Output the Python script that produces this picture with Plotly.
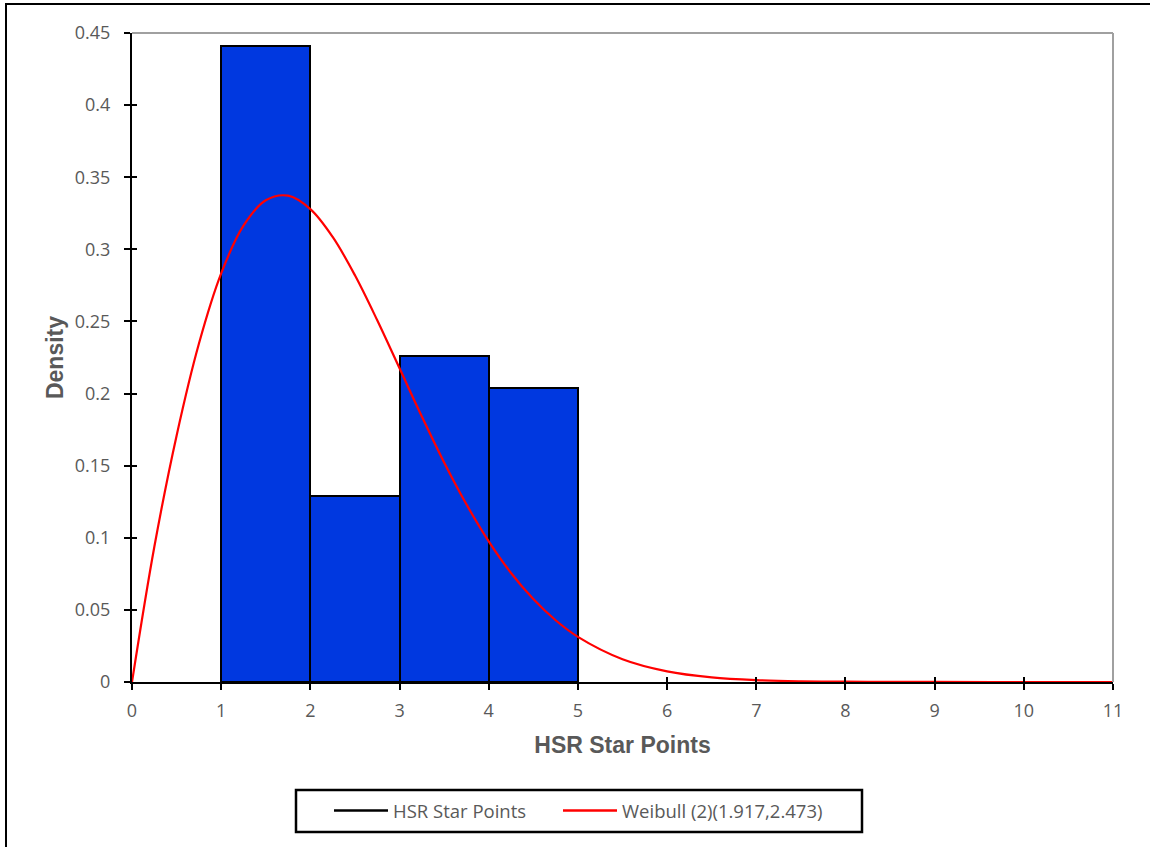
import plotly.graph_objects as go

# Histogram (density) of HSR Star Points
bin_left = [1, 2, 3, 4]
bin_width = [1, 1, 1, 1]
density = [0.441, 0.129, 0.226, 0.204]

# Weibull (2)(1.917, 2.473) curve
curve_x = [0, 0.25, 0.5, 0.75, 1, 1.25, 1.5, 1.75, 2, 2.25, 2.5, 2.75, 3, 3.25, 3.5,
           3.75, 4, 4.25, 4.5, 4.75, 5, 5.5, 6, 6.5, 7, 7.5, 8, 8.5, 9, 10, 11]
curve_y = [0, 0.0936, 0.1708, 0.2345, 0.2833, 0.3164, 0.3340, 0.3372, 0.3279, 0.3086,
           0.2820, 0.2508, 0.2175, 0.1841, 0.1522, 0.1232, 0.0975, 0.0756, 0.0575,
           0.0428, 0.0313, 0.0158, 0.0074, 0.0032, 0.0013, 0.0005, 0.0002, 0.00005,
           0.00002, 0, 0]

x_ticks = list(range(0, 12))
y_ticks = [0, 0.05, 0.1, 0.15, 0.2, 0.25, 0.3, 0.35, 0.4, 0.45]
y_tick_text = ["0", "0.05", "0.1", "0.15", "0.2", "0.25", "0.3", "0.35", "0.4", "0.45"]

GRAY = "#595959"
FONT = "Open Sans, Carlito, sans-serif"
fig = go.Figure()

fig.add_trace(go.Bar(
    x=[l + w / 2 for l, w in zip(bin_left, bin_width)], y=density, width=bin_width,
    marker=dict(color="#0038E0", line=dict(color="black", width=2)),
    showlegend=False, name="HSR Star Points"))

fig.add_trace(go.Scatter(
    x=curve_x, y=curve_y, mode="lines", line=dict(color="#FF0000", width=2.2, shape="spline"),
    showlegend=False, name="Weibull (2)(1.917,2.473)"))

# legend entries (attached to overlay axes that draw inner tick halves)
fig.add_trace(go.Scatter(x=[None], y=[None], mode="lines", line=dict(color="black", width=2.5),
                         name="HSR Star Points", xaxis="x2", yaxis="y2"))
fig.add_trace(go.Scatter(x=[None], y=[None], mode="lines", line=dict(color="#FF0000", width=2.5),
                         name="Weibull (2)(1.917,2.473)", xaxis="x2", yaxis="y2"))
# invisible spacer entry so the last legend label is not clipped
fig.add_trace(go.Scatter(x=[None], y=[None], mode="lines",
                         line=dict(color="rgba(0,0,0,0)", width=0),
                         name=" ", xaxis="x2", yaxis="y2", hoverinfo="skip"))

def px_x(p):
    return (p - 132) / 981

def px_y(p):
    return (682 - p) / 649

fig.update_layout(
    width=1150, height=847,
    margin=dict(l=132, r=37, t=33, b=165),
    plot_bgcolor="white", paper_bgcolor="white",
    font=dict(family=FONT, color=GRAY, size=15),
    bargap=0,
    xaxis=dict(range=[0, 11], tickvals=x_ticks, ticks="outside", ticklen=6, tickwidth=2,
               tickcolor="black", showline=True, linecolor="black", linewidth=2,
               showgrid=False, zeroline=False, tickfont=dict(size=18, color=GRAY),
               ticklabelstandoff=5,
               title=dict(text="<b>HSR Star Points</b>", standoff=16,
                          font=dict(family="Liberation Sans, Arial", size=23, color=GRAY))),
    yaxis=dict(range=[0, 0.45], tickvals=y_ticks, ticktext=y_tick_text, ticks="outside",
               ticklen=6, tickwidth=2, tickcolor="black", showline=True, linecolor="black",
               linewidth=2, showgrid=False, zeroline=False, tickfont=dict(size=18, color=GRAY),
               ticklabelstandoff=10,
               title=dict(text="<b>Density</b>", standoff=5,
                          font=dict(family="Liberation Sans, Arial", size=23, color=GRAY))),
    xaxis2=dict(range=[0, 11], tickvals=x_ticks, ticks="inside", ticklen=5, tickwidth=2,
                tickcolor="black", showticklabels=False, showline=False, showgrid=False,
                zeroline=False, overlaying="x", anchor="y2"),
    yaxis2=dict(range=[0, 0.45], tickvals=y_ticks, ticks="inside", ticklen=5, tickwidth=2,
                tickcolor="black", showticklabels=False, showline=False, showgrid=False,
                zeroline=False, overlaying="y", anchor="x2"),
    legend=dict(orientation="h", x=px_x(329), xanchor="left", y=px_y(811), yanchor="middle",
                borderwidth=0, bgcolor="rgba(0,0,0,0)",
                font=dict(family=FONT, size=18.5, color=GRAY), entrywidth=160,
                entrywidthmode="pixels", itemwidth=54),
    shapes=[
        dict(type="line", xref="paper", yref="paper", x0=0, x1=1, y0=1, y1=1,
             line=dict(color="#A0A0A0", width=2)),
        dict(type="line", xref="paper", yref="paper", x0=1, x1=1, y0=0, y1=1,
             line=dict(color="#A0A0A0", width=2)),
        dict(type="rect", xref="paper", yref="paper", x0=px_x(6), x1=px_x(1165),
             y0=px_y(865), y1=px_y(4), line=dict(color="black", width=2), layer="below"),
        dict(type="rect", xref="paper", yref="paper", x0=px_x(296), x1=px_x(862),
             y0=px_y(832), y1=px_y(790), line=dict(color="black", width=2.5), layer="below"),
    ],
)

fig.write_html("out.html")
